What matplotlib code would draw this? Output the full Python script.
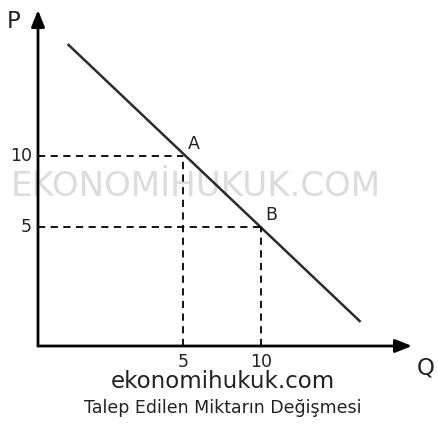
import matplotlib.pyplot as plt

# data
demand_q = [-2.4, 16.4]
demand_p = [17.9, -1.7]
point_names = ["A", "B"]
point_q = [5, 10]
point_p = [10, 5]
x_ticks = [5, 10]
y_ticks = [10, 5]

fig = plt.figure(figsize=(4.38, 4.46), dpi=100)
ax = fig.add_axes([38 / 438, 1 - 346 / 446, (412 - 38) / 438, (346 - 10) / 446])
x0, x1 = -4.3, 19.7
y0, y1 = -3.4, 20.3
ax.set_xlim(x0, x1)
ax.set_ylim(y0, y1)
ax.axis('off')

# filigran (çizgilerin arkasında)
ax.text(196 / 438, 1 - 187 / 446, "EKONOMİHUKUK.COM", transform=fig.transFigure,
        ha='center', va='center', fontsize=24.5, color='#dcdcdc', zorder=0)

# eksenler (oklu)
arrow = dict(arrowstyle='-|>,head_length=1.0,head_width=0.4', color='black', lw=2,
             shrinkA=0, shrinkB=0)
ax.annotate('', xy=(x0, y1), xytext=(x0, y0), arrowprops=arrow, annotation_clip=False,
            zorder=3)
ax.annotate('', xy=(x1, y0), xytext=(x0, y0), arrowprops=arrow, annotation_clip=False,
            zorder=3)

# talep eğrisi
ax.plot(demand_q, demand_p, color='#2b2b2b', lw=1.8, solid_capstyle='butt', zorder=2)

# noktalar ve kesikli çizgiler
for nome, q, p in zip(point_names, point_q, point_p):
    ax.plot([x0, q], [p, p], ls=(0, (4, 3)), color='black', lw=1.3, zorder=2)
    ax.plot([q, q], [y0, p], ls=(0, (4, 3)), color='black', lw=1.3, zorder=2)
    ax.text(q + 0.3, p + 0.2, nome, fontsize=12.5, color='#222222', ha='left', va='bottom')

for t in x_ticks:
    ax.text(t, y0 - 0.5, str(t), fontsize=12.5, ha='center', va='top', color='#222222')
for t in y_ticks:
    ax.text(x0 - 0.4, t, str(t), fontsize=12.5, ha='right', va='center', color='#222222')

fig.text(14 / 438, 1 - 22 / 446, "P", fontsize=16.5, ha='center', va='center', color='#222222')
fig.text(426 / 438, 1 - 368 / 446, "Q", fontsize=16.5, ha='center', va='center', color='#222222')

fig.text(223 / 438, 1 - 381 / 446, "ekonomihukuk.com", fontsize=16.5, ha='center', va='center',
         color='#222222')
fig.text(223 / 438, 1 - 408 / 446, "Talep Edilen Miktarın Değişmesi", fontsize=12.5,
         ha='center', va='center', color='#222222')

fig.savefig('out.png', dpi=100)
